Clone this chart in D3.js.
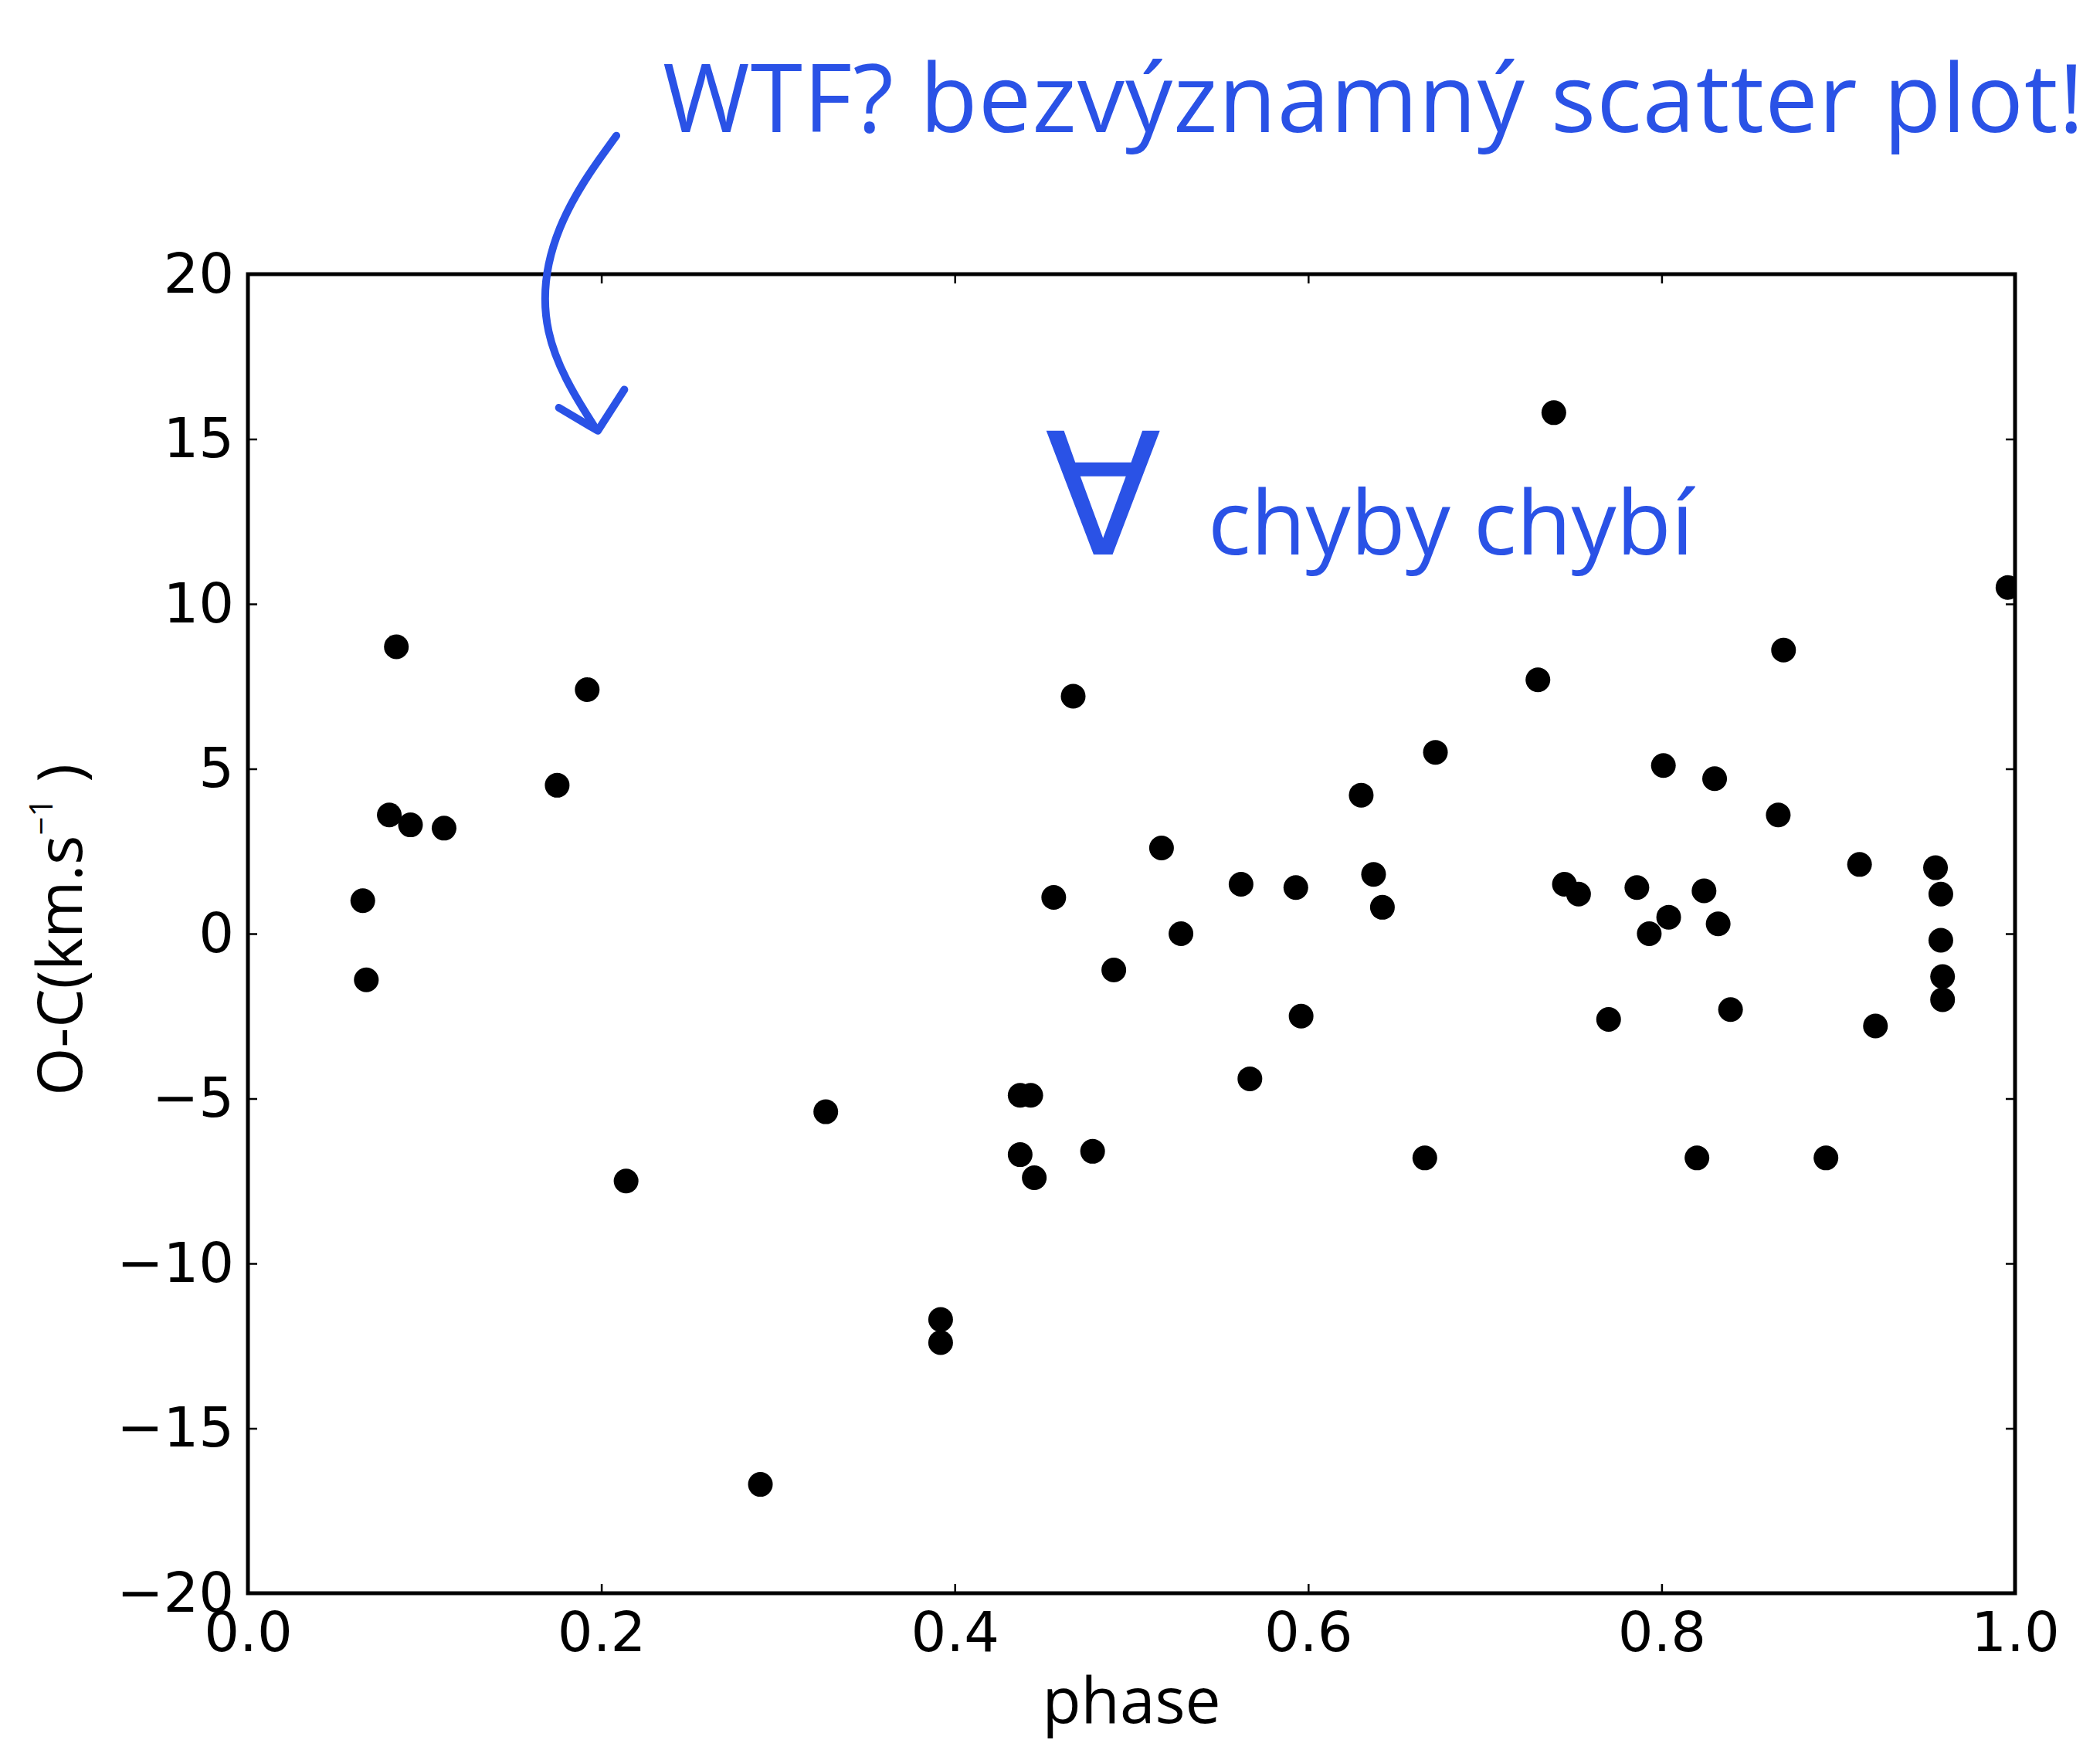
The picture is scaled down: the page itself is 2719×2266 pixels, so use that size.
<!DOCTYPE html>
<html>
<head>
<meta charset="utf-8">
<script src="https://cdn.jsdelivr.net/npm/d3@7"></script>
<style>
    body { margin: 0; background: #fff; }
</style>
</head>
<body>
<div id="chart"></div>
<script>
// values
var phase = [0.065, 0.067, 0.084, 0.080, 0.092, 0.111, 0.175, 0.192, 0.214, 0.290,
    0.327, 0.392, 0.392, 0.437, 0.443, 0.437, 0.445, 0.456, 0.467, 0.478,
    0.490, 0.517, 0.528, 0.562, 0.567, 0.593, 0.596, 0.630, 0.637, 0.642,
    0.666, 0.672, 0.730, 0.739, 0.745, 0.753, 0.770, 0.786, 0.793, 0.801,
    0.804, 0.820, 0.824, 0.830, 0.832, 0.839, 0.866, 0.869, 0.893, 0.912,
    0.921, 0.955, 0.958, 0.958, 0.959, 0.959, 0.996];
var oc = [1.0, -1.4, 8.7, 3.6, 3.3, 3.2, 4.5, 7.4, -7.5, -16.7,
    -5.4, -11.7, -12.4, -4.9, -4.9, -6.7, -7.4, 1.1, 7.2, -6.6,
    -1.1, 2.6, 0.0, 1.5, -4.4, 1.4, -2.5, 4.2, 1.8, 0.8,
    -6.8, 5.5, 7.7, 15.8, 1.5, 1.2, -2.6, 1.4, 0.0, 5.1,
    0.5, -6.8, 1.3, 4.7, 0.3, -2.3, 3.6, 8.6, -6.8, 2.1,
    -2.8, 2.0, 1.2, -0.2, -1.3, -2.0, 10.5];

var xTicks = [0.0, 0.2, 0.4, 0.6, 0.8, 1.0];
var yTicks = [-20, -15, -10, -5, 0, 5, 10, 15, 20];

var noteTop = "WTF? bezvýznamný scatter plot!";
var noteMid = ["∀", "chyby chybí"];

var W = 2719, H = 2266;
var margin = { top: 355, right: 110, bottom: 203, left: 321 },
    width = W - margin.left - margin.right,
    height = H - margin.top - margin.bottom;
var blue = "#2a52e6";

var svg = d3.select("#chart")
    .append("svg")
    .attr("width", W)
    .attr("height", H)
    .style("background", "#fff")
    .append("g")
    .attr("transform", "translate(" + margin.left + "," + margin.top + ")");

var x = d3.scaleLinear().domain([0, 1]).range([0, width]);
var y = d3.scaleLinear().domain([-20, 20]).range([height, 0]);

// clip so the dot on the right edge is cut like in the original
svg.append("clipPath")
    .attr("id", "plotClip")
    .append("rect")
    .attr("width", width)
    .attr("height", height);

// points
svg.append("g")
    .attr("clip-path", "url(#plotClip)")
    .selectAll("circle")
    .data(phase)
    .enter()
    .append("circle")
    .attr("cx", function (d) { return x(d); })
    .attr("cy", function (d, i) { return y(oc[i]); })
    .attr("r", 16)
    .attr("fill", "#000");

// axes, ticks pointing inwards on all four sides
function styleAxis(g) {
    g.select(".domain").remove();
    g.selectAll(".tick line").attr("stroke", "#000").attr("stroke-width", 2.5);
    g.selectAll(".tick text")
        .style("font-family", "DejaVu Sans")
        .style("font-size", "72px")
        .attr("fill", "#000");
}

svg.append("g")
    .attr("transform", "translate(0," + height + ")")
    .call(d3.axisBottom(x).tickValues(xTicks).tickFormat(d3.format(".1f"))
        .tickSizeInner(-12).tickSizeOuter(0).tickPadding(24))
    .call(styleAxis);

svg.append("g")
    .call(d3.axisTop(x).tickValues(xTicks).tickFormat("")
        .tickSizeInner(-12).tickSizeOuter(0))
    .call(styleAxis);

svg.append("g")
    .call(d3.axisLeft(y).tickValues(yTicks).tickFormat(d3.format("d"))
        .tickSizeInner(-12).tickSizeOuter(0).tickPadding(18))
    .call(styleAxis);

svg.append("g")
    .attr("transform", "translate(" + width + ",0)")
    .call(d3.axisRight(y).tickValues(yTicks).tickFormat("")
        .tickSizeInner(-12).tickSizeOuter(0))
    .call(styleAxis);

// frame
svg.append("rect")
    .attr("width", width)
    .attr("height", height)
    .attr("fill", "none")
    .attr("stroke", "#000")
    .attr("stroke-width", 5);

// axis labels
svg.append("text")
    .attr("x", width / 2)
    .attr("y", height + 168)
    .attr("text-anchor", "middle")
    .style("font-family", "Open Sans")
    .style("font-size", "82px")
    .text("phase");

var ylab = svg.append("text")
    .attr("transform", "translate(-215," + (height / 2 - 5) + ")rotate(-90)")
    .attr("text-anchor", "middle")
    .style("font-family", "Open Sans")
    .style("font-size", "80px");
ylab.append("tspan").text("O-C(km.s");
ylab.append("tspan").attr("dy", -38).style("font-size", "42px").text("−1");
ylab.append("tspan").attr("dy", 38).text(" )");

// handwritten notes
svg.append("text")
    .attr("x", x(0.2347))
    .attr("y", y(24.3))
    .attr("textLength", 1840)
    .attr("lengthAdjust", "spacing")
    .attr("fill", blue)
    .style("font-family", "Open Sans")
    .style("font-size", "122px")
    .text(noteTop);

var mid = svg.append("text")
    .attr("x", x(0.451))
    .attr("y", y(11.5))
    .attr("fill", blue)
    .style("font-family", "Open Sans")
    .style("font-size", "116px");
mid.append("tspan").style("font-size", "220px").text(noteMid[0]);
mid.append("tspan").attr("dx", 60).text(noteMid[1]);

// arrow from the note down into the plot
var arrow = d3.line().curve(d3.curveBasis);
svg.append("path")
    .attr("d", arrow([[x(0.2085), y(24.2)], [x(0.172), y(21.5)], [x(0.163), y(18.2)], [x(0.197), y(15.3)]]))
    .attr("fill", "none")
    .attr("stroke", blue)
    .attr("stroke-width", 10)
    .attr("stroke-linecap", "round");
svg.append("path")
    .attr("d", d3.line()([[x(0.176), y(15.95)], [x(0.198), y(15.25)], [x(0.213), y(16.5)]]))
    .attr("fill", "none")
    .attr("stroke", blue)
    .attr("stroke-width", 10)
    .attr("stroke-linecap", "round")
    .attr("stroke-linejoin", "round");
</script>
</body>
</html>
